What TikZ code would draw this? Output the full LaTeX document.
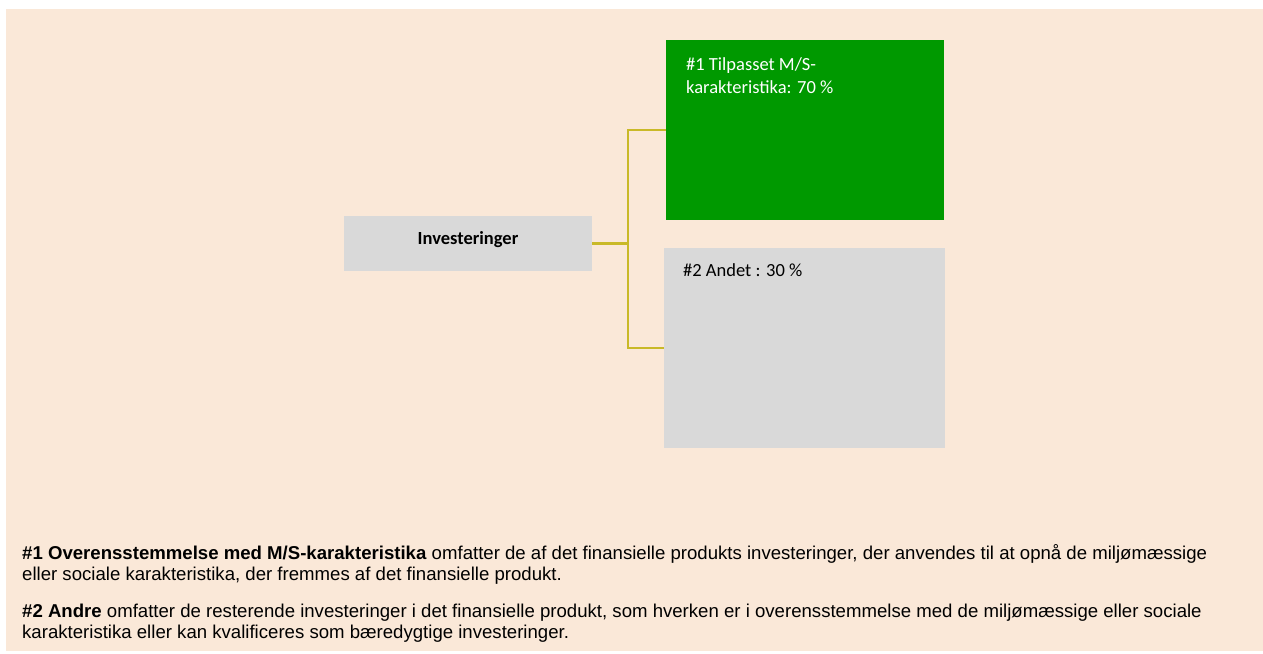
\documentclass[tikz,border=0pt]{standalone}
\usepackage{fontspec}
\setmainfont{Liberation Sans}
\newfontfamily\calibri{Carlito}
\definecolor{peach}{RGB}{250,232,216}
\definecolor{boxgreen}{RGB}{0,153,0}
\definecolor{boxgrey}{RGB}{217,217,217}
\definecolor{conncol}{RGB}{201,185,40}
\begin{document}
\begin{tikzpicture}[x=1pt,y=-1pt,
  box/.style={draw=none,inner sep=0pt,outer sep=0pt,anchor=north west},
  conn/.style={draw=conncol,line width=2.5pt},
  lbl/.style={inner sep=0pt,anchor=base west,font=\calibri\fontsize{18.5}{22}\selectfont},
  body/.style={inner sep=0pt,anchor=base west,font=\fontsize{18.6}{21}\selectfont,text=black}]
\useasboundingbox (0,0) rectangle (1263,653);
\fill[peach] (6,9) rectangle (1263,651);
% boxes
\node[box,fill=boxgrey,minimum width=248pt,minimum height=55pt] (inv) at (344,216) {};
\node[box,fill=boxgreen,minimum width=278pt,minimum height=180pt] (green) at (666,40) {};
\node[box,fill=boxgrey,minimum width=281pt,minimum height=200pt] (grey) at (664,248) {};
% texts
\node[inner sep=0pt,anchor=base,font=\calibri\bfseries\fontsize{18.5}{22}\selectfont] (invtxt) at (468,244) {Investeringer};
\node[lbl,text=white] (g1) at (686,70) {\#1 Tilpasset M/S-};
\node[lbl,text=white] (g2) at (686,93) {karakteristika: 70 \%};
\node[lbl,text=black] (r1) at (683,276) {\#2 Andet : 30 \%};
% connectors
\draw[conn] (inv.east) -- ++(36,0) |- (green.west);
\draw[conn] (inv.east) -- ++(36,0) |- (grey.west);
% footnotes
\node[body] (p1a) at (22,559) {\textbf{\#1 Overensstemmelse med M/S-karakteristika} omfatter de af det finansielle produkts investeringer, der anvendes til at opnå de miljømæssige};
\node[body] (p1b) at (22,580) {eller sociale karakteristika, der fremmes af det finansielle produkt.};
\node[body] (p2a) at (22,617) {\textbf{\#2 Andre} omfatter de resterende investeringer i det finansielle produkt, som hverken er i overensstemmelse med de miljømæssige eller sociale};
\node[body] (p2b) at (22,638) {karakteristika eller kan kvalificeres som bæredygtige investeringer.};
\end{tikzpicture}
\end{document}
